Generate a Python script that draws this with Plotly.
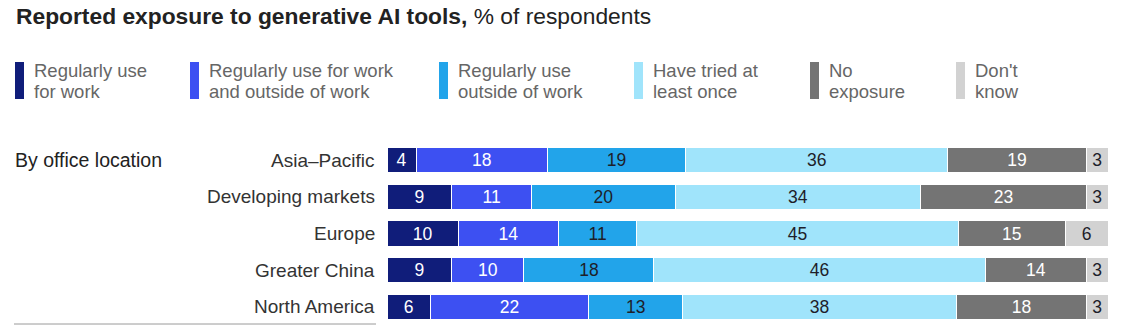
import plotly.graph_objects as go

categories = ["Asia\u2013Pacific", "Developing markets", "Europe", "Greater China", "North America"]
series_names = ["Regularly use for work", "Regularly use for work and outside of work",
                "Regularly use outside of work", "Have tried at least once", "No exposure", "Don't know"]
legend_line1 = ["Regularly use", "Regularly use for work", "Regularly use", "Have tried at", "No", "Don't"]
legend_line2 = ["for work", "and outside of work", "outside of work", "least once", "exposure", "know"]

work_only = [4, 9, 10, 9, 6]
work_and_outside = [18, 11, 14, 10, 22]
outside_only = [19, 20, 11, 18, 13]
tried_once = [36, 34, 45, 46, 38]
no_exposure = [19, 23, 15, 14, 18]
dont_know = [3, 3, 6, 3, 3]

series_values = [work_only, work_and_outside, outside_only, tried_once, no_exposure, dont_know]
colors = ["#101d7a", "#3d50f2", "#22a4ea", "#a0e4fb", "#747474", "#d2d2d2"]
text_colors = ["#ffffff", "#ffffff", "#1e1e2a", "#1e1e2a", "#ffffff", "#1e1e2a"]

W, H = 1132, 329
L, R, T, B = 387, 24, 142, 4
PW, PH = W - L - R, H - T - B


def px(x):
    return (x - L) / PW


def py(y):
    return (H - B - y) / PH


row_sums = [sum(s[i] for s in series_values) for i in range(len(categories))]

fig = go.Figure()
for name, vals, col, tcol in zip(series_names, series_values, colors, text_colors):
    fig.add_trace(go.Bar(
        y=categories,
        x=[v / row_sums[i] * 100 for i, v in enumerate(vals)],
        orientation="h",
        name=name,
        marker=dict(color=col, line=dict(color="#ffffff", width=1)),
        text=[str(v) for v in vals],
        textposition="inside",
        insidetextanchor="middle",
        constraintext="none",
        textangle=0,
        textfont=dict(color=tcol, size=17.5, family="Arial, Liberation Sans"),
        hoverinfo="skip",
    ))

font_family = "Arial, Liberation Sans, sans-serif"
annotations = []
shapes = []

# Title
annotations.append(dict(
    xref="paper", yref="paper", x=px(14), y=py(16), xanchor="left", yanchor="middle",
    text="<b>Reported exposure to generative AI tools,</b> % of respondents",
    showarrow=False, font=dict(size=22.8, color="#222222", family=font_family)))

# Legend
legend_x = [15, 190, 439, 634, 810, 956]
for lx, l1, l2, col in zip(legend_x, legend_line1, legend_line2, colors):
    shapes.append(dict(type="rect", xref="paper", yref="paper",
                       x0=px(lx), x1=px(lx + 9), y0=py(99), y1=py(62),
                       fillcolor=col, line=dict(width=0)))
    for txt, yy in ((l1, 70), (l2, 92)):
        annotations.append(dict(
            xref="paper", yref="paper", x=px(lx + 17), y=py(yy), xanchor="left", yanchor="middle",
            text=txt, align="left", showarrow=False,
            font=dict(size=18.5, color="#666666", family=font_family)))

# Group heading
annotations.append(dict(
    xref="paper", yref="y", x=px(13), y=categories[0], xanchor="left", yanchor="middle",
    text="By office location", showarrow=False,
    font=dict(size=19.5, color="#222222", family=font_family)))

# Category labels
for c in categories:
    annotations.append(dict(
        xref="paper", yref="y", x=px(377), y=c, xanchor="right", yanchor="middle",
        text=c, showarrow=False, font=dict(size=19, color="#333333", family=font_family)))

# Bottom rule under labels
shapes.append(dict(type="line", xref="paper", yref="paper",
                   x0=px(14), x1=px(376), y0=py(324), y1=py(324),
                   line=dict(color="#9a9a9a", width=1)))

fig.update_layout(
    width=W, height=H,
    margin=dict(l=L, r=R, t=T, b=B, pad=0),
    barmode="stack",
    bargap=0.31,
    showlegend=False,
    plot_bgcolor="#ffffff",
    paper_bgcolor="#ffffff",
    xaxis=dict(range=[0, 100], visible=False, fixedrange=True),
    yaxis=dict(autorange="reversed", showticklabels=False, showgrid=False,
               zeroline=False, fixedrange=True),
    annotations=annotations,
    shapes=shapes,
    font=dict(family=font_family),
)

fig.write_html("out.html", config={"displayModeBar": False})
